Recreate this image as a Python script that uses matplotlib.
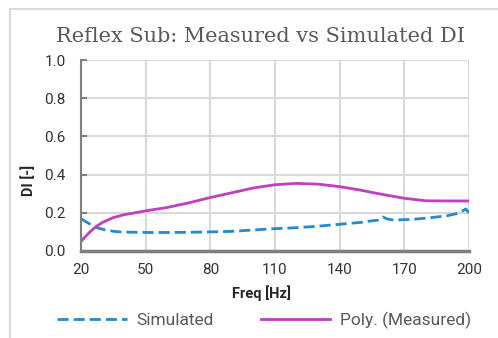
import matplotlib.pyplot as plt

# data
sim_freq = [20, 22, 25, 28, 32, 36, 40, 50, 60, 70, 80, 90, 100, 110, 120, 130,
            140, 150, 155, 158, 160, 162, 165, 170, 175, 180, 185, 190, 194, 197, 198.5, 200]
sim_di = [0.17, 0.155, 0.135, 0.12, 0.108, 0.102, 0.099, 0.097, 0.097, 0.098, 0.10, 0.103,
          0.11, 0.117, 0.122, 0.13, 0.14, 0.15, 0.158, 0.162, 0.178, 0.168, 0.162, 0.164,
          0.167, 0.172, 0.178, 0.185, 0.195, 0.21, 0.22, 0.20]

meas_freq = [20, 22, 24, 27, 30, 35, 40, 50, 60, 70, 80, 90, 100, 110, 120, 130,
             140, 150, 160, 170, 180, 190, 200]
meas_di = [0.05, 0.075, 0.098, 0.128, 0.15, 0.175, 0.19, 0.21, 0.228, 0.252, 0.28, 0.305,
           0.33, 0.347, 0.354, 0.35, 0.337, 0.318, 0.296, 0.276, 0.263, 0.262, 0.262]

x_ticks = [20, 50, 80, 110, 140, 170, 200]
y_ticks = [0.0, 0.2, 0.4, 0.6, 0.8, 1.0]

blue = "#2589cf"
magenta = "#bf3fbf"
grey_txt = "#595959"
grid_col = "#d9d9d9"

plt.rcParams["font.family"] = ["Roboto", "DejaVu Sans"]

fig = plt.figure(figsize=(4.98, 3.38), dpi=100)
ax = fig.add_axes([81 / 498, 1 - 251 / 338, (469 - 81) / 498, (251 - 60) / 338])

ax.plot(sim_freq, sim_di, color=blue, lw=2.0, ls=(0, (4, 1.8)), label="Simulated")
ax.plot(meas_freq, meas_di, color=magenta, lw=2.0, label="Poly. (Measured)")

ax.set_xlim(20, 200)
ax.set_ylim(0, 1)
ax.set_xticks(x_ticks)
ax.set_yticks(y_ticks)
ax.set_yticklabels([f"{v:.1f}" for v in y_ticks])
ax.grid(True, color=grid_col, lw=1.5)
ax.set_axisbelow(True)

for s in ["top", "right"]:
    ax.spines[s].set_visible(False)
ax.spines["left"].set_color("#7f7f7f")
ax.spines["left"].set_linewidth(1.5)
ax.spines["bottom"].set_color("#7f7f7f")
ax.spines["bottom"].set_linewidth(2.5)

ax.tick_params(axis="y", direction="in", length=4, width=1.5, color="#7f7f7f",
               labelsize=11, labelcolor="#333333", pad=11)
ax.tick_params(axis="x", length=0, labelsize=11, labelcolor="#333333", pad=9)

fig.text(260 / 498, 1 - 37 / 338, "Reflex Sub: Measured vs Simulated DI",
         ha="center", va="center", fontsize=15, color=grey_txt, family="DejaVu Serif")
fig.text(29 / 498, 1 - 180 / 338, "DI [-]", rotation=90, ha="center", va="center",
         fontsize=10.5, fontweight="bold", color="#262626")
fig.text(261 / 498, 1 - 293 / 338, "Freq [Hz]", ha="center", va="center",
         fontsize=10.5, fontweight="bold", color="#262626")

leg = fig.legend(loc="center", bbox_to_anchor=(264 / 498, 1 - 320 / 338), ncol=2,
                 frameon=False, fontsize=12.5, handlelength=4.0, columnspacing=2.7,
                 handletextpad=0.55)
for t in leg.get_texts():
    t.set_color(grey_txt)

# chart border
fig.add_artist(plt.Rectangle((9.5 / 498, -0.1), 1.2, 1 - 9 / 338 + 0.1,
                             transform=fig.transFigure, fill=False,
                             edgecolor=grid_col, lw=1.5))

fig.savefig("out.png", dpi=100)
